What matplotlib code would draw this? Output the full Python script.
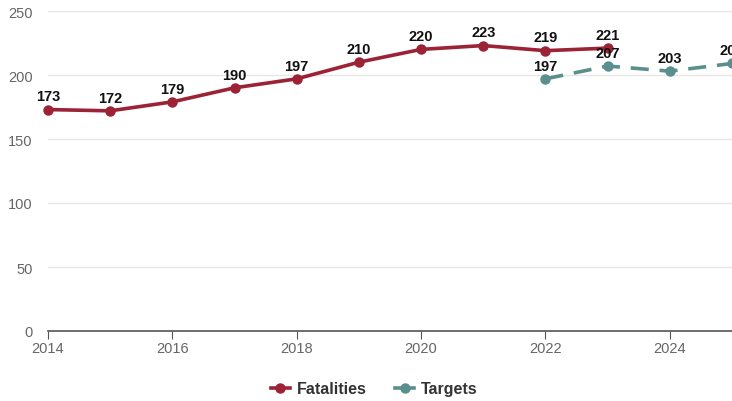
import matplotlib
matplotlib.use("Agg")
import matplotlib.pyplot as plt
from matplotlib.lines import Line2D

plt.rcParams['font.family'] = ['Liberation Sans', 'DejaVu Sans']

fat_years = [2014, 2015, 2016, 2017, 2018, 2019, 2020, 2021, 2022, 2023]
fat_vals = [173, 172, 179, 190, 197, 210, 220, 223, 219, 221]
tgt_years = [2022, 2023, 2024, 2025]
tgt_vals = [197, 207, 203, 209]
yticks = [0, 50, 100, 150, 200, 250]
xticks = [2014, 2016, 2018, 2020, 2022, 2024]

red = "#9b2335"
teal = "#5a8f8e"

fig = plt.figure(figsize=(7.32, 4.02), dpi=100)
ax = fig.add_axes([48/732, 1-332/402, (732-48)/732, (332-12)/402])

ax.plot(fat_years, fat_vals, color=red, lw=2.6, marker="o", ms=6.5, zorder=3, clip_on=False)
ax.plot(tgt_years, tgt_vals, color=teal, lw=2.6, ls=(0, (5, 3)), marker="o", ms=6.5, zorder=3, clip_on=False)

for x, y in zip(fat_years, fat_vals):
    ax.annotate(str(y), (x, y), xytext=(0, 4.5), textcoords="offset points", ha="center", va="bottom",
                fontsize=10.5, fontweight="bold", color="#111111", annotation_clip=False)
for x, y in zip(tgt_years, tgt_vals):
    ax.annotate(str(y), (x, y), xytext=(0, 4.5), textcoords="offset points", ha="center", va="bottom",
                fontsize=10.5, fontweight="bold", color="#111111", annotation_clip=False)

ax.set_xlim(2014, 2025)
ax.set_ylim(0, 250)
ax.set_yticks(yticks)
ax.set_xticks(xticks)
ax.grid(axis="y", color="#e6e6e6", lw=1)
ax.set_axisbelow(True)
for s in ["top", "right", "left"]:
    ax.spines[s].set_visible(False)
ax.spines["bottom"].set_color("#555555")
ax.spines["bottom"].set_linewidth(1.2)
ax.tick_params(axis="y", length=0, labelsize=10.5, labelcolor="#666666", pad=11)
ax.tick_params(axis="x", length=6, direction="out", color="#555555", labelsize=10.5, labelcolor="#666666", pad=1.5)

handles = [Line2D([], [], color=red, lw=2.6, marker="o", ms=6.5),
           Line2D([], [], color=teal, lw=2.6, marker="o", ms=6.5)]
fig.legend(handles, ["Fatalities", "Targets"], loc="center", bbox_to_anchor=(374/732, 1-390/402), ncol=2,
           frameon=False, prop={"weight": "bold", "size": 11.5}, labelcolor="#333333",
           handlelength=1.2, columnspacing=1.8, handletextpad=0.4)

fig.savefig("out.png", dpi=100)
